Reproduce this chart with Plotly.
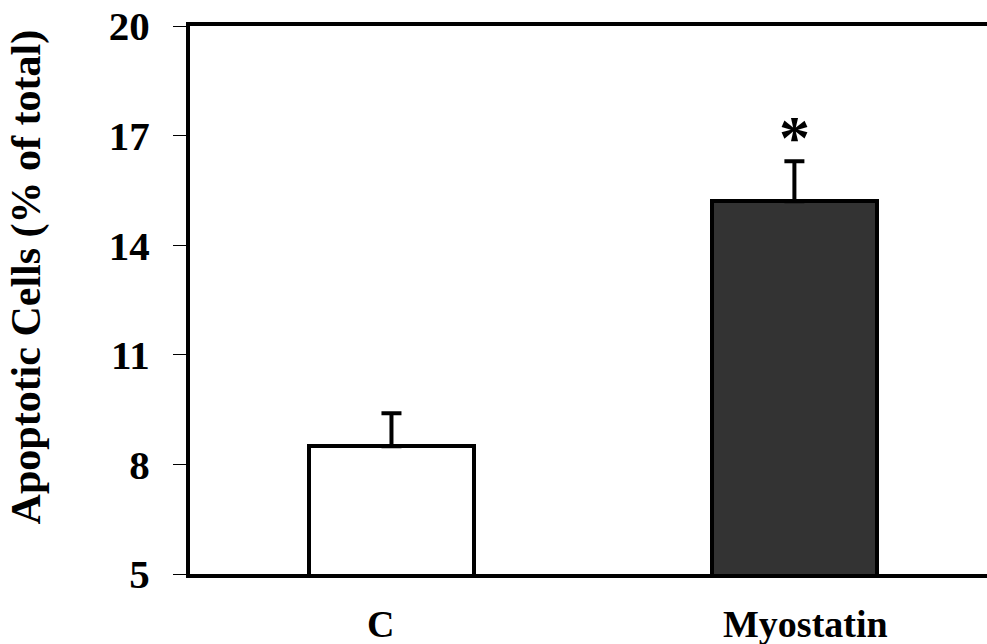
import plotly.graph_objects as go

# Apoptotic cell fraction per group (mean and upper SE)
groups = ["C", "Myostatin"]
means = [8.5, 15.2]
errors = [0.9, 1.1]
bar_colors = ["#ffffff", "#333333"]
y_ticks = [5, 8, 11, 14, 17, 20]
label_shifts = [-11, 11]

font_family = "Liberation Serif, Times New Roman, serif"

fig = go.Figure()
fig.add_trace(go.Bar(
    x=[0, 1],
    y=means,
    width=0.41,
    marker=dict(color=bar_colors, line=dict(color="black", width=4)),
    error_y=dict(type="data", array=errors, arrayminus=[0, 0], symmetric=False,
                 color="black", thickness=4, width=10),
    showlegend=False,
))

# significance marker above the Myostatin bar
fig.add_annotation(x=1, y=means[1] + errors[1], text="<b>*</b>", showarrow=False,
                   yanchor="bottom", yshift=-12,
                   font=dict(family=font_family, size=62, color="black"))

# group labels under the bars
for i, (g, dx) in enumerate(zip(groups, label_shifts)):
    fig.add_annotation(x=i, xref="x", y=0, yref="paper", yanchor="top",
                       yshift=-27, xshift=dx, text=f"<b>{g}</b>", showarrow=False,
                       font=dict(family=font_family, size=38, color="black"))

# y-axis title, placed slightly above the plot's vertical centre
fig.add_annotation(xref="paper", yref="paper", x=-0.204, y=0.542,
                   xanchor="center", yanchor="middle", textangle=-90,
                   text="<b>Apoptotic Cells (% of total)</b>", showarrow=False,
                   font=dict(family=font_family, size=42, color="black"))

fig.update_layout(
    width=987, height=644,
    margin=dict(l=190, r=0, t=26, b=70),
    paper_bgcolor="white", plot_bgcolor="white",
    font=dict(family=font_family, color="black"),
    bargap=0,
)
fig.update_xaxes(
    range=[-0.5, 1.478], showticklabels=False, ticks="",
    showgrid=False, zeroline=False,
    showline=True, linecolor="black", linewidth=4, mirror=True,
)
fig.update_yaxes(
    range=[5, 20], tickvals=y_ticks, ticktext=[f"<b>{t}</b>" for t in y_ticks],
    tickfont=dict(size=41), ticks="outside", ticklen=13, tickwidth=1, tickcolor="black",
    ticklabelstandoff=15,
    showgrid=False, zeroline=False, showline=True, linecolor="black", linewidth=4,
)

fig.write_html("out.html")
